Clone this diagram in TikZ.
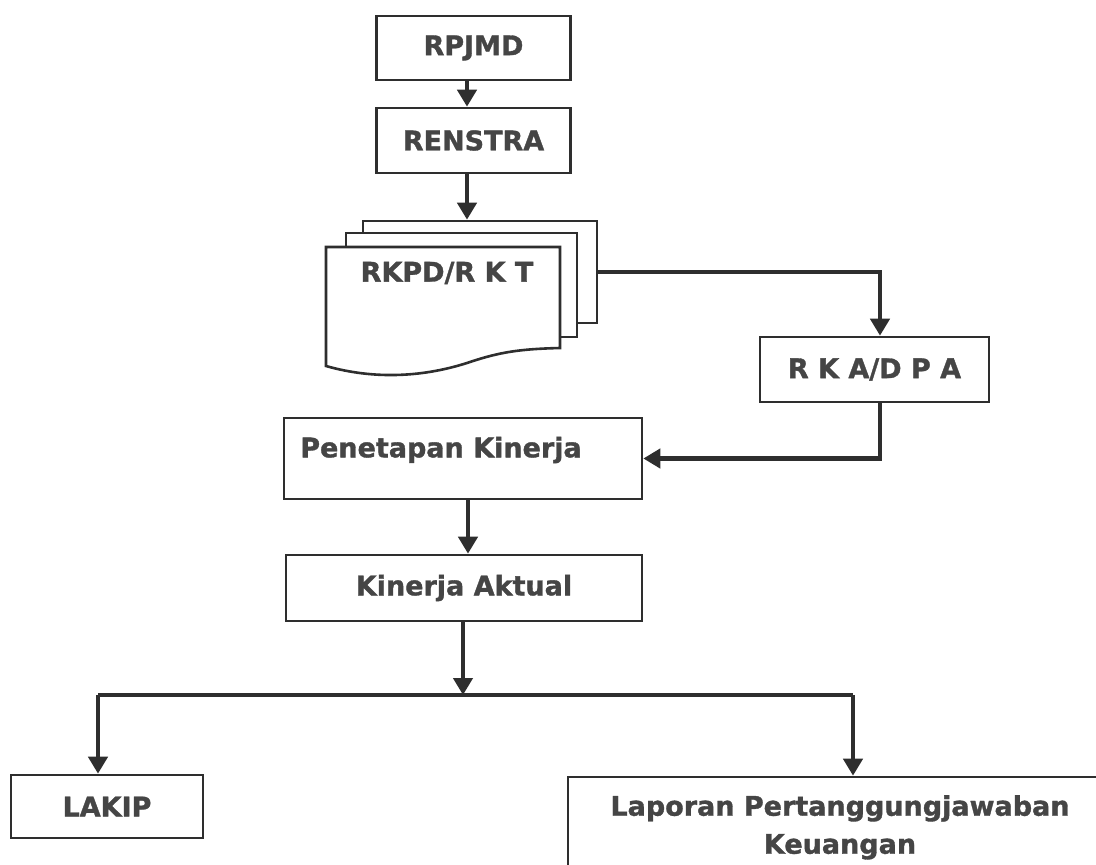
\documentclass[tikz,border=0pt]{standalone}
\usepackage{fontspec}
\setmainfont{DejaVu Sans}[BoldFeatures={FakeBold=1.2}]
\usetikzlibrary{arrows.meta,calc}
\definecolor{ln}{HTML}{2E2E2E}
\definecolor{tx}{HTML}{454545}
\tikzset{
  box/.style={draw=ln, line width=2.6pt, fill=white, inner sep=0pt, rectangle,
    font=\fontsize{27}{41}\selectfont\bfseries, text=tx},
  lbl/.style={inner sep=0pt, font=\fontsize{27}{38}\selectfont\bfseries, text=tx},
  page/.style={draw=ln, line width=2.6pt, fill=white},
  conn/.style={draw=ln, line width=4.4pt, -{Triangle[width=19pt,length=17pt]}},
  bar/.style={draw=ln, line width=4.4pt}
}
\begin{document}
\begin{tikzpicture}[x=1pt,y=-1pt]
\useasboundingbox (0,0) rectangle (1096,865);
\fill[white] (0,0) rectangle (1096,865);

% top boxes
\node[box, minimum width=194pt, minimum height=64pt] (rpjmd) at (473.5,48) {RPJMD};
\node[box, minimum width=194pt, minimum height=65pt] (renstra) at (473.5,140.5) {RENSTRA};

% document stack
\node[page, inner sep=0pt, minimum width=234pt, minimum height=102pt] (back) at (480,272) {};
\node[page, inner sep=0pt, minimum width=231pt, minimum height=104pt] (mid) at (461.5,285) {};
\path[page] (326,366) -- (326,247) -- (560,247) -- (560,348)
  .. controls (520,349) and (500,352) .. (470,362)
  .. controls (425,377) and (375,380) .. (326,366) -- cycle;
\node[lbl] (rkpd) at (447,273) {RKPD/R K T};

\node[box, minimum width=229pt, minimum height=65pt] (rka) at (874.5,369.5) {R K A/D P A};

\node[box, minimum width=358pt, minimum height=81pt] (penetapan) at (463,458.5) {};
\node[lbl] (penlbl) at (441,450) {Penetapan Kinerja};

\node[box, minimum width=356pt, minimum height=66pt] (kinerja) at (464,588) {Kinerja Aktual};

\node[box, minimum width=192pt, minimum height=63pt] (lakip) at (107,806.5) {LAKIP};

\begin{scope}
\clip (0,0) rectangle (1096,865);
\node[box, minimum width=560pt, minimum height=113pt] (lpk) at (848,833.5) {};
\end{scope}
\node[lbl, align=center, anchor=north] (lpktext) at (840,795)
  {Laporan Pertanggungjawaban\\Keuangan};

% connectors
\draw[conn] (rpjmd.south -| 467,0) -- (renstra.north -| 467,0);
\draw[conn] (renstra.south -| 467,0) -- (back.north -| 467,0);
\draw[conn] (back.east) -| ([xshift=5.5pt]rka.north);
\draw[conn] ([xshift=5.5pt]rka.south) |- (penetapan.east);
\draw[conn] (penetapan.south -| 468,0) -- (kinerja.north -| 468,0);
\coordinate (j) at (463,695);
\coordinate (bl) at (98,695);
\coordinate (br) at (853,695);
\draw[conn] (kinerja.south -| j) -- (j);
\draw[bar] (bl) -- (br);
\draw[conn] (bl) -- (bl |- lakip.north);
\draw[conn] (br) -- (br |- lpk.north);
\end{tikzpicture}
\end{document}
